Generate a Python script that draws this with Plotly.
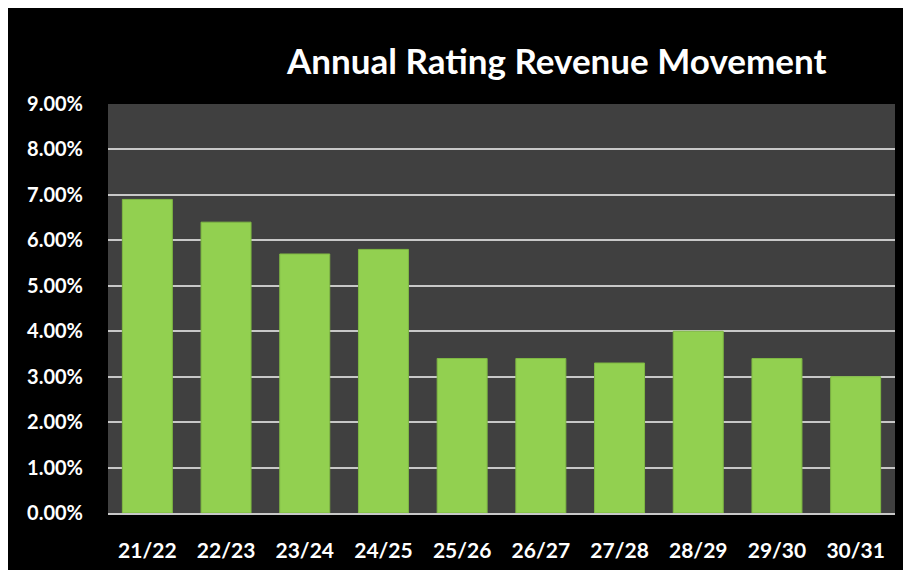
import plotly.graph_objects as go

# values (percent)
years = ["21/22", "22/23", "23/24", "24/25", "25/26",
         "26/27", "27/28", "28/29", "29/30", "30/31"]
movement = [6.9, 6.4, 5.7, 5.8, 3.4, 3.4, 3.3, 4.0, 3.4, 3.0]
y_ticks = [0, 1, 2, 3, 4, 5, 6, 7, 8, 9]
y_labels = [f"{v:.2f}%" for v in y_ticks]

font_family = "Lato, 'Open Sans', sans-serif"

fig = go.Figure()

fig.add_trace(go.Bar(
    x=years,
    y=movement,
    marker=dict(color="#92D050", line=dict(color="#7fb843", width=1)),
    hoverinfo="x+y",
))

W, H = 911, 570
ml, mr, mt, mb = 100, 24, 96, 65
pw = W - ml - mr
ph = H - mt - mb

fig.update_layout(
    width=W,
    height=H,
    margin=dict(l=ml, r=mr, t=mt, b=mb),
    paper_bgcolor="black",
    plot_bgcolor="#404040",
    showlegend=False,
    bargap=0.365,
    font=dict(family=font_family, color="white", size=18),
    annotations=[
        dict(text="<b>Annual Rating Revenue Movement</b>",
             xref="paper", yref="paper",
             x=(548 - ml) / pw, y=1 + (mt - 52) / ph,
             xanchor="center", yanchor="middle", showarrow=False,
             font=dict(size=35, color="white", family=font_family)),
    ],
)

fig.update_yaxes(
    range=[0, 9],
    tickvals=y_ticks,
    ticktext=y_labels,
    tickfont=dict(size=20, color="white", family=font_family, weight="bold"),
    showgrid=True,
    gridcolor="#c8c8c8",
    gridwidth=1.5,
    zeroline=False,
    ticks="outside",
    ticklen=20,
    tickcolor="black",
)

fig.update_xaxes(
    tickfont=dict(size=21, color="white", family=font_family, weight="bold"),
    showline=True,
    linecolor="#c8c8c8",
    linewidth=2,
    ticks="outside",
    ticklen=18,
    tickcolor="black",
)

fig.write_html("out.html")
